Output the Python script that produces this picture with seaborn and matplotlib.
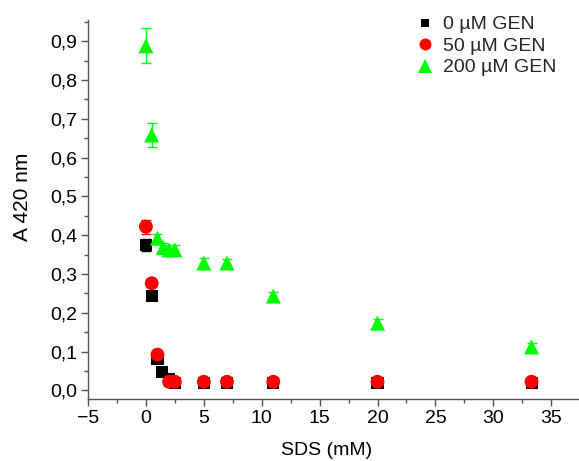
import matplotlib
matplotlib.use("Agg")
import matplotlib.pyplot as plt
import matplotlib.ticker as mticker
import seaborn as sns
import pandas as pd

# Data
sds_0 = [0, 0.5, 1, 1.4, 2, 2.5, 5, 7, 11, 20, 33.3]
a_0 = [0.375, 0.242, 0.080, 0.047, 0.030, 0.020, 0.020, 0.020, 0.020, 0.020, 0.020]
err_0 = [0.015, 0.005, 0.005, 0.004, 0.004, 0.004, 0.004, 0.004, 0.004, 0.004, 0.004]

sds_50 = [0, 0.5, 1, 2, 2.5, 5, 7, 11, 20, 33.3]
a_50 = [0.422, 0.276, 0.092, 0.022, 0.022, 0.022, 0.022, 0.022, 0.022, 0.022]
err_50 = [0.018, 0.006, 0.006, 0.005, 0.005, 0.005, 0.005, 0.005, 0.005, 0.005]

sds_200 = [0, 0.5, 1, 1.5, 2, 2.5, 5, 7, 11, 20, 33.3]
a_200 = [0.888, 0.658, 0.392, 0.368, 0.362, 0.362, 0.328, 0.328, 0.243, 0.173, 0.112]
err_200 = [0.045, 0.032, 0.012, 0.012, 0.012, 0.012, 0.012, 0.010, 0.010, 0.010, 0.010]

labels = ["0 µM GEN", "50 µM GEN", "200 µM GEN"]
colors = ["#000000", "#ff0000", "#00ff00"]
markers = ["s", "o", "^"]
marker_area = [75, 100, 117]
legend_msize = [5.8, 8.6, 9.4]

df = pd.concat([
    pd.DataFrame({"SDS": sds_0, "A": a_0, "err": err_0, "series": labels[0]}),
    pd.DataFrame({"SDS": sds_50, "A": a_50, "err": err_50, "series": labels[1]}),
    pd.DataFrame({"SDS": sds_200, "A": a_200, "err": err_200, "series": labels[2]}),
], ignore_index=True)

sns.set_theme(style="white")
plt.rcParams["font.family"] = ["Liberation Sans", "DejaVu Sans"]

FS = 14
fig = plt.figure(figsize=(5.79, 4.61), dpi=100)
ax = fig.add_axes([0.152, 0.134, 0.846, 0.823])

for lab, col in zip(labels, colors):
    sub = df[df["series"] == lab]
    ax.errorbar(sub["SDS"], sub["A"], yerr=sub["err"], fmt="none",
                ecolor=col, elinewidth=1, capsize=3.3, capthick=1, zorder=2)

sns.scatterplot(data=df, x="SDS", y="A", hue="series", style="series", size="series",
                hue_order=labels, style_order=labels, size_order=labels,
                palette=dict(zip(labels, colors)),
                markers=dict(zip(labels, markers)),
                sizes=dict(zip(labels, marker_area)),
                edgecolor="none", linewidth=0, ax=ax, zorder=3)

ax.set_xlim(-5, 37.3)
ax.set_ylim(-0.023, 0.955)
ax.xaxis.set_major_locator(mticker.MultipleLocator(5))
ax.xaxis.set_minor_locator(mticker.MultipleLocator(2.5))
ax.yaxis.set_major_locator(mticker.MultipleLocator(0.1))
ax.yaxis.set_minor_locator(mticker.MultipleLocator(0.05))
ax.yaxis.set_major_formatter(mticker.FuncFormatter(lambda v, p: f"{v:.1f}".replace(".", ",").replace("-0,0", "0,0")))
ax.xaxis.set_major_formatter(mticker.FuncFormatter(lambda v, p: f"{v:.0f}".replace("-", "\u2212")))

for s in ["top", "right"]:
    ax.spines[s].set_visible(False)
for s in ["left", "bottom"]:
    ax.spines[s].set_color("#555555")
    ax.spines[s].set_linewidth(1.0)

ax.tick_params(axis="both", which="major", direction="out", length=5, width=1,
               color="#555555", labelsize=FS, labelcolor="black", bottom=True, left=True, pad=3)
ax.tick_params(axis="both", which="minor", direction="out", length=3, width=1,
               color="#555555", bottom=True, left=True)

ax.set_xlabel("SDS (mM)", fontsize=FS, color="black")
ax.set_ylabel("A 420 nm", fontsize=15, color="black")
ax.yaxis.set_label_coords(-0.115, 0.533)
ax.xaxis.set_label_coords(0.487, -0.114)

leg = ax.legend(loc="upper right", bbox_to_anchor=(564 / 579, 1 - 8 / 461),
                bbox_transform=fig.transFigure, frameon=False,
                fontsize=FS, handletextpad=0.5, labelspacing=0.2,
                borderaxespad=0.0, borderpad=0.4, handlelength=0.8)
for h, ms in zip(leg.legend_handles, legend_msize):
    h.set_markersize(ms)

fig.savefig("out.png", dpi=100)
